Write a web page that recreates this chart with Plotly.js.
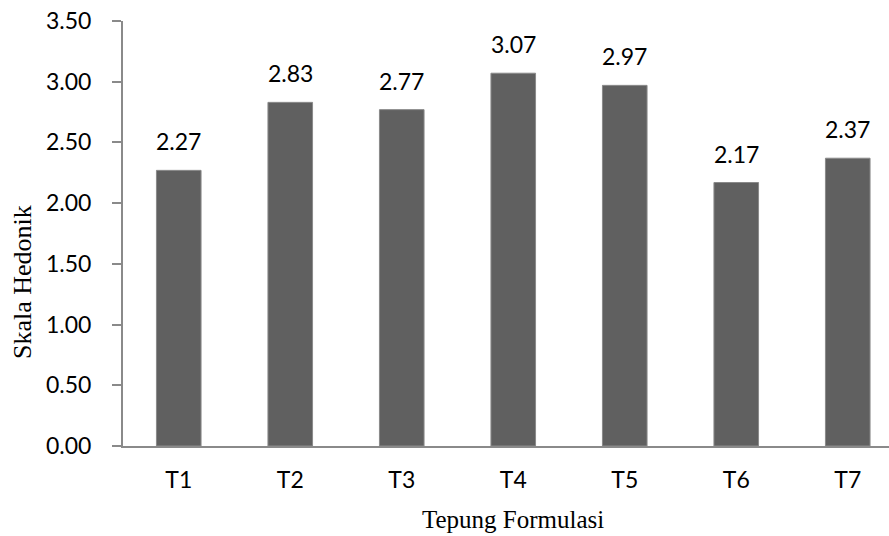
<!DOCTYPE html>
<html>
<head>
<meta charset="utf-8">
<script src="https://cdn.plot.ly/plotly-3.0.1.min.js"></script>
<style>html,body{margin:0;padding:0;background:#fff}#chart{width:889px;height:536px}</style>
</head>
<body>
<div id="chart"></div>
<script>
var categories = ["T1","T2","T3","T4","T5","T6","T7"];
var values = [2.27, 2.83, 2.77, 3.07, 2.97, 2.17, 2.37];
var yTickVals = [0, 0.5, 1, 1.5, 2, 2.5, 3, 3.5];
var yTickText = ["0.00","0.50","1.00","1.50","2.00","2.50","3.00","3.50"];
var xTitle = "Tepung Formulasi";
var yTitle = "Skala Hedonik";

var labelFont = {family: "Lato, 'Open Sans', sans-serif", size: 23, color: "#000"};
var titleFontX = {family: "'Liberation Serif', 'Times New Roman', serif", size: 25, color: "#000"};
var titleFontY = {family: "'Liberation Serif', 'Times New Roman', serif", size: 26, color: "#000"};

var annotations = categories.map(function(c, i){
  return {x: c, y: values[i], xref: "x", yref: "y", text: values[i].toFixed(2),
    showarrow: false, yanchor: "bottom", yshift: 13, font: labelFont};
});
annotations.push({text: xTitle, xref: "x", x: 3, yref: "paper", y: 0, yshift: -73,
  yanchor: "middle", xanchor: "center", showarrow: false, font: titleFontX});
annotations.push({text: yTitle, xref: "paper", x: 0, xshift: -101, yref: "y", y: 1.35,
  xanchor: "center", yanchor: "middle", textangle: -90, showarrow: false, font: titleFontY});

var trace = {type: "bar", x: categories, y: values,
  marker: {color: "#606060", line: {color: "#8a8a8a", width: 1}},
  hoverinfo: "x+y"};

var layout = {
  width: 889, height: 536,
  margin: {l: 123, r: 0, t: 21, b: 90},
  paper_bgcolor: "#fff", plot_bgcolor: "#fff",
  bargap: 0.6,
  showlegend: false,
  font: labelFont,
  xaxis: {type: "category", range: [-0.5, 6.37], showline: true, linecolor: "#8a8a8a", linewidth: 2,
    ticks: "", showgrid: false, zeroline: false, tickfont: labelFont, ticklabelstandoff: 12},
  yaxis: {range: [0, 3.5], tickvals: yTickVals, ticktext: yTickText, showline: true, linecolor: "#8a8a8a", linewidth: 2,
    ticks: "outside", ticklen: 9, tickcolor: "#8a8a8a", tickwidth: 2, showgrid: false, zeroline: false,
    tickfont: labelFont, ticklabelstandoff: 16},
  annotations: annotations
};
Plotly.newPlot("chart", [trace], layout, {displayModeBar: false, staticPlot: true});
</script>
</body>
</html>
